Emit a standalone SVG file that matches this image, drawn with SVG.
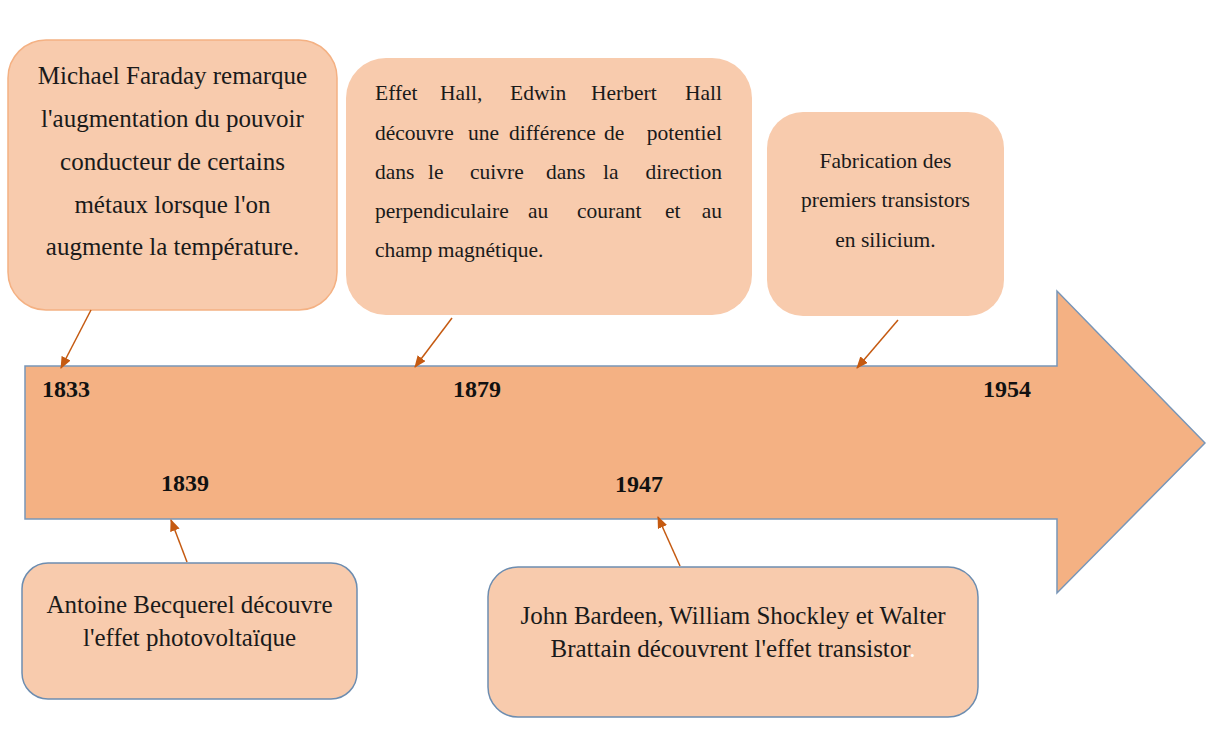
<svg xmlns="http://www.w3.org/2000/svg" width="1206" height="731" viewBox="0 0 1206 731">
<style>
.box{fill:#f8cbad;}
.bo{stroke:#f4b183;stroke-width:1.5;}
.bb{stroke:#6d8db0;stroke-width:1.5;}
.t{font-family:"Liberation Serif","Times New Roman",serif;font-size:25px;fill:#1a1a1a;text-anchor:middle;}
.g{font-family:"Liberation Serif","Times New Roman",serif;font-size:21.5px;fill:#1a1a1a;}
.yr{font-family:"Liberation Serif","Times New Roman",serif;font-size:24px;font-weight:bold;fill:#111;}
.c{stroke:#c55a11;stroke-width:1.5;fill:none;marker-end:url(#ah);}
</style>
<defs>
<marker id="ah" viewBox="0 0 12 10" refX="11" refY="5" markerWidth="12" markerHeight="10" markerUnits="userSpaceOnUse" orient="auto">
<path d="M0,0 L12,5 L0,10 Z" fill="#c55a11"/>
</marker>
</defs>
<g id="timeline">
<polygon points="25,366 1057,366 1057,291 1205,443 1057,593 1057,519 25,519" fill="#f4b183" stroke="#7896b8" stroke-width="1.5"/>
<text class="yr" x="42" y="397">1833</text>
<text class="yr" x="453" y="397">1879</text>
<text class="yr" x="983" y="397">1954</text>
<text class="yr" x="161" y="491">1839</text>
<text class="yr" x="615" y="492">1947</text>
</g>
<g id="n1833">
<rect class="box bo" x="8" y="40" width="329" height="270" rx="38"/>
<text class="t" x="172.5" y="84">Michael Faraday remarque</text>
<text class="t" x="172.5" y="127">l'augmentation du pouvoir</text>
<text class="t" x="172.5" y="169.5">conducteur de certains</text>
<text class="t" x="172.5" y="212.5">métaux lorsque l'on</text>
<text class="t" x="172.5" y="255">augmente la température.</text>
</g>
<g id="n1879">
<rect class="box" x="346" y="58" width="406" height="257" rx="40"/>
<text class="g" y="100"><tspan x="375">Effet</tspan><tspan x="440">Hall,</tspan><tspan x="510">Edwin</tspan><tspan x="591">Herbert</tspan><tspan x="722" text-anchor="end">Hall</tspan></text>
<text class="g" y="140"><tspan x="375">découvre</tspan><tspan x="468">une</tspan><tspan x="509">différence</tspan><tspan x="604">de</tspan><tspan x="722" text-anchor="end">potentiel</tspan></text>
<text class="g" y="179"><tspan x="375">dans</tspan><tspan x="428">le</tspan><tspan x="470">cuivre</tspan><tspan x="546">dans</tspan><tspan x="603">la</tspan><tspan x="722" text-anchor="end">direction</tspan></text>
<text class="g" y="218"><tspan x="375">perpendiculaire</tspan><tspan x="528">au</tspan><tspan x="577">courant</tspan><tspan x="665">et</tspan><tspan x="722" text-anchor="end">au</tspan></text>
<text class="g" x="375" y="257">champ magnétique.</text>
</g>
<g id="n1954">
<rect class="box" x="767" y="112" width="237" height="204" rx="36"/>
<text class="g" text-anchor="middle" x="885.5" y="168" font-size="22">Fabrication des</text>
<text class="g" text-anchor="middle" x="885.5" y="207" font-size="22">premiers transistors</text>
<text class="g" text-anchor="middle" x="885.5" y="246.5" font-size="22">en silicium.</text>
</g>
<g id="n1839">
<rect class="box bb" x="22" y="563" width="335" height="136" rx="26"/>
<text class="t" x="189.5" y="613">Antoine Becquerel découvre</text>
<text class="t" x="189.5" y="646">l'effet photovoltaïque</text>
</g>
<g id="n1947">
<rect class="box bb" x="488" y="567" width="490" height="150" rx="30"/>
<text class="t" x="733" y="624">John Bardeen, William Shockley et Walter</text>
<text class="t" x="733" y="657">Brattain découvrent l'effet transistor<tspan fill="#ffffff">.</tspan></text>
</g>
<g id="connectors">
<line class="c" x1="91" y1="310" x2="61" y2="368"/>
<line class="c" x1="452" y1="318" x2="415" y2="367"/>
<line class="c" x1="898" y1="320" x2="857" y2="368"/>
<line class="c" x1="187" y1="562" x2="171" y2="520"/>
<line class="c" x1="680" y1="566" x2="658" y2="517"/>
</g>
</svg>
